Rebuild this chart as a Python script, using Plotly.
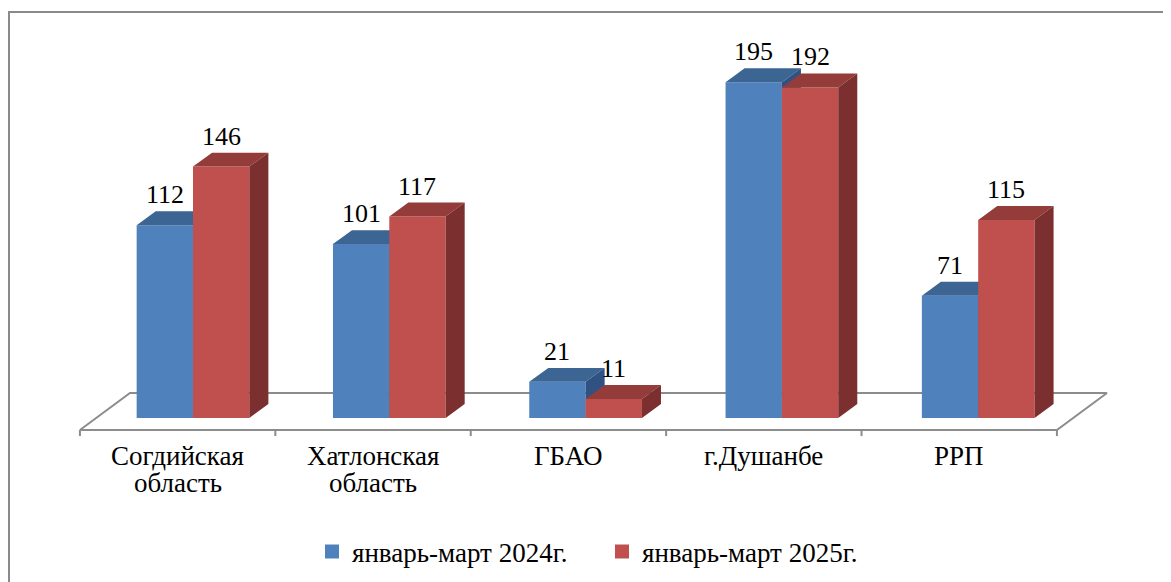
import plotly.graph_objects as go

categories = ["Согдийская\nобласть", "Хатлонская\nобласть", "ГБАО", "г.Душанбе", "РРП"]
series_names = ["январь-март 2024г.", "январь-март 2025г."]
values_2024 = [112, 101, 21, 195, 71]
values_2025 = [146, 117, 11, 192, 115]

front_colors = ["#4F81BD", "#C0504D"]
top_colors = ["#3C6594", "#943C3A"]
side_colors = ["#2F5283", "#7B2F2E"]

FONT = "Liberation Serif"

# geometry (in axis units)
BAR_W = 0.287          # width of each bar front
DEP_X = 0.097          # bar depth offset in x units
DEP_Y = 8.1            # bar depth offset in value units
FLOOR_X0 = -0.576
FLOOR_STEP = 0.9954
FLOOR_FRONT_Y = -7.0
FLOOR_DX = 0.255
FLOOR_DY = 21.5
TICK_LEN = 3.5
LABEL_Y = [-32.0, -47.8]   # bottoms of the category label lines (value units)

W, H = 1163, 574   # page body has an 8px margin

n = len(categories)

fig = go.Figure()

# floor (parallelogram)
fx0 = FLOOR_X0
fx1 = FLOOR_X0 + n * FLOOR_STEP
floor_x = [fx0, fx1, fx1 + FLOOR_DX, fx0 + FLOOR_DX, fx0]
floor_y = [FLOOR_FRONT_Y, FLOOR_FRONT_Y, FLOOR_FRONT_Y + FLOOR_DY, FLOOR_FRONT_Y + FLOOR_DY, FLOOR_FRONT_Y]
fig.add_trace(go.Scatter(x=floor_x, y=floor_y, mode="lines", fill="toself",
                         fillcolor="white", line=dict(color="#8C8C8C", width=2),
                         hoverinfo="skip", showlegend=False))
tx, ty = [], []
for k in range(n + 1):
    xk = FLOOR_X0 + k * FLOOR_STEP
    tx += [xk, xk, None]
    ty += [FLOOR_FRONT_Y, FLOOR_FRONT_Y - TICK_LEN, None]
fig.add_trace(go.Scatter(x=tx, y=ty, mode="lines", line=dict(color="#8C8C8C", width=2),
                         hoverinfo="skip", showlegend=False))

for s, vals in enumerate([values_2024, values_2025]):
    offset = -BAR_W if s == 0 else 0.0
    fx_, fy_, px_, py_, sx_, sy_ = [], [], [], [], [], []
    for i, v in enumerate(vals):
        x0 = i + offset
        x1 = x0 + BAR_W
        fx_ += [x0, x0, x1, x1, x0, None]
        fy_ += [0, v, v, 0, 0, None]
        px_ += [x0, x0 + DEP_X, x1 + DEP_X, x1, x0, None]
        py_ += [v, v + DEP_Y, v + DEP_Y, v, v, None]
        sx_ += [x1, x1, x1 + DEP_X, x1 + DEP_X, x1, None]
        sy_ += [0, v, v + DEP_Y, DEP_Y, 0, None]
    for xx, yy, col in [(fx_, fy_, front_colors[s]), (px_, py_, top_colors[s]), (sx_, sy_, side_colors[s])]:
        fig.add_trace(go.Scatter(x=xx, y=yy, mode="lines", fill="toself",
                                 fillcolor=col, line=dict(width=0, color=col),
                                 hoverinfo="skip", showlegend=False))
    # legend entry
    fig.add_trace(go.Scatter(x=[None], y=[None], mode="markers", name=series_names[s],
                             marker=dict(symbol="square", size=14, color=front_colors[s]),
                             showlegend=True))
    for i, v in enumerate(vals):
        fig.add_annotation(x=i + offset + BAR_W / 2, y=v + DEP_Y, text=str(v),
                           showarrow=False, xanchor="center", yanchor="bottom",
                           font=dict(family=FONT, size=26, color="#000000"))

for k, c in enumerate(categories):
    for j, line in enumerate(c.split("\n")):
        fig.add_annotation(x=FLOOR_X0 + (k + 0.5) * FLOOR_STEP, y=LABEL_Y[j], text=line,
                           showarrow=False, xanchor="center", yanchor="bottom",
                           font=dict(family=FONT, size=27, color="#000000"))

# outer frame (partially cut by the image edge)
fig.add_shape(type="rect", xref="paper", yref="paper",
              x0=1 / W, x1=1.05, y0=-0.05, y1=1 - 4 / H,
              line=dict(color="#8A8A8A", width=2), fillcolor="rgba(0,0,0,0)")

fig.update_layout(
    width=W, height=H,
    margin=dict(l=0, r=0, t=0, b=0),
    paper_bgcolor="white", plot_bgcolor="white",
    xaxis=dict(range=[(8 - 193) / 196.3, (1171 - 193) / 196.3], visible=False, fixedrange=True),
    yaxis=dict(range=[(418 - 582) / 1.722, (418 - 8) / 1.722], visible=False, fixedrange=True),
    legend=dict(orientation="h", x=(312 - 8) / W, xanchor="left", y=1 - (552 - 8) / H, yanchor="middle",
                font=dict(family=FONT, size=27, color="#000000"),
                bgcolor="rgba(0,0,0,0)", traceorder="normal", entrywidth=245),
    showlegend=True,
)

fig.write_html("out.html")
